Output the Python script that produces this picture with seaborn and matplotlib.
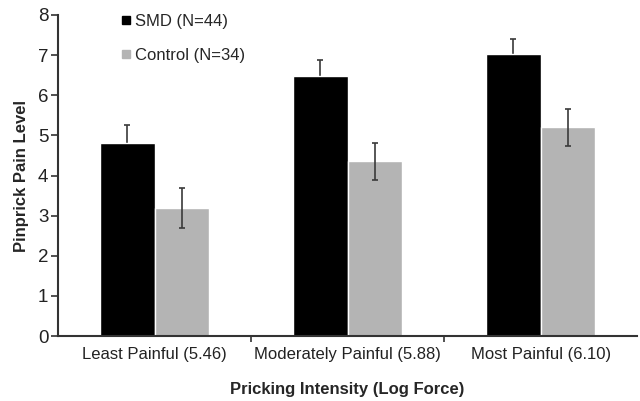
import matplotlib
matplotlib.use("Agg")
import matplotlib.pyplot as plt
import seaborn as sns
import pandas as pd
import numpy as np
from matplotlib.lines import Line2D

categories = ["Least Painful (5.46)", "Moderately Painful (5.88)", "Most Painful (6.10)"]
groups = ["SMD (N=44)", "Control (N=34)"]
smd_values = [4.82, 6.49, 7.02]
smd_errors = [0.45, 0.38, 0.38]
control_values = [3.18, 4.36, 5.20]
control_errors = [0.50, 0.46, 0.46]
y_ticks = [0, 1, 2, 3, 4, 5, 6, 7, 8]

sns.set_style("white")
plt.rcParams['font.family'] = ['Liberation Sans', 'DejaVu Sans']

df = pd.DataFrame({
    "category": categories * 2,
    "group": [groups[0]] * 3 + [groups[1]] * 3,
    "value": smd_values + control_values,
})

fig = plt.figure(figsize=(6.4, 4.01), dpi=100)
ax = fig.add_axes([0.0906, 0.162, 0.905, 0.8006])
palette = {groups[0]: "#000000", groups[1]: "#b4b4b4"}
sns.barplot(data=df, x="category", y="value", hue="group", palette=palette,
            width=0.567, errorbar=None, ax=ax, saturation=1, legend=False, zorder=2)

# error bars from bar positions
bars = [p for p in ax.patches if p.get_height() > 0]
bars_sorted = sorted(bars, key=lambda p: p.get_x())
smd_bars = bars_sorted[0::2]
ctl_bars = bars_sorted[1::2]
for p, v, e in zip(smd_bars, smd_values, smd_errors):
    cx = p.get_x() + p.get_width() / 2
    ax.errorbar(cx, v, yerr=e, color="#3a3a3a", capsize=2.5, elinewidth=1.2,
                capthick=1.2, fmt="none", zorder=1)
for p, v, e in zip(ctl_bars, control_values, control_errors):
    cx = p.get_x() + p.get_width() / 2
    ax.errorbar(cx, v, yerr=e, color="#3a3a3a", capsize=2.5, elinewidth=1.2,
                capthick=1.2, fmt="none", zorder=3)

ax.set_xlim(-0.5, 2.5)
ax.set_ylim(0, 8)
ax.set_yticks(y_ticks)
ax.set_yticklabels([str(t) for t in y_ticks], fontsize=13.5, color="#222222")
ax.set_xticks([0, 1, 2])
ax.set_xticklabels(categories, fontsize=12, color="#222222")
ax.tick_params(axis="x", length=0, pad=8)
ax.tick_params(axis="y", length=5, width=1.2, direction="out", left=True, color="#333333", pad=2)
# category boundary ticks
ax.set_xticks([0.5, 1.5], minor=True)
ax.tick_params(axis="x", which="minor", length=4, width=1.2, direction="out", bottom=True, color="#333333")

for s in ["top", "right"]:
    ax.spines[s].set_visible(False)
for s in ["left", "bottom"]:
    ax.spines[s].set_linewidth(1.5)
    ax.spines[s].set_color("#333333")
    ax.spines[s].set_zorder(4)

ax.set_ylabel("Pinprick Pain Level", fontsize=12, fontweight="bold", labelpad=6)
ax.set_xlabel("Pricking Intensity (Log Force)", fontsize=12, fontweight="bold", labelpad=14)

handles = [Line2D([0], [0], marker="s", linestyle="none", markersize=6,
                  markerfacecolor=palette[g], markeredgecolor=palette[g]) for g in groups]
ax.legend(handles, groups, loc="upper left", bbox_to_anchor=(0.08, 1.05), frameon=False,
          fontsize=12, handletextpad=0.15, labelspacing=1.15, handlelength=0.8)

fig.savefig("out.png", dpi=100)
